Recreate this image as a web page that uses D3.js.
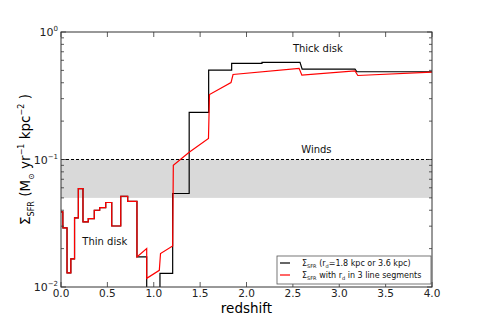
<!DOCTYPE html>
<html>
<head>
<meta charset="utf-8">
<script src="https://cdn.jsdelivr.net/npm/d3@7"></script>
<style>
  body { margin: 0; background: #fff; }
  svg { display: block; font-family: "DejaVu Sans", sans-serif; }
</style>
</head>
<body>
<div id="chart"></div>
<script>
// Data (redshift, Sigma_SFR)
const zBlack = [0, 0.02, 0.02, 0.065, 0.065, 0.106, 0.106, 0.146, 0.146, 0.187, 0.187, 0.237, 0.237, 0.294, 0.294, 0.359, 0.359, 0.417, 0.417, 0.482, 0.482, 0.547, 0.547, 0.644, 0.644, 0.719, 0.719, 0.819, 0.819, 0.924, 0.924, 1.067, 1.067, 1.204, 1.204, 1.382, 1.382, 1.592, 1.592, 1.840, 1.840, 2.167, 2.167, 2.577, 2.60, 3.17, 3.19, 4.0];
const sfrBlack = [0.0388, 0.0388, 0.0291, 0.0291, 0.0129, 0.0129, 0.0166, 0.0166, 0.0348, 0.0348, 0.0592, 0.0592, 0.0324, 0.0324, 0.0344, 0.0344, 0.0400, 0.0400, 0.0420, 0.0420, 0.0460, 0.0460, 0.0301, 0.0301, 0.0515, 0.0515, 0.0470, 0.0470, 0.0172, 0.0172, 0.0095, 0.0095, 0.0128, 0.0128, 0.0541, 0.0541, 0.234, 0.234, 0.503, 0.503, 0.568, 0.568, 0.578, 0.578, 0.512, 0.512, 0.488, 0.488];

const zRed = [0, 0.02, 0.02, 0.065, 0.065, 0.106, 0.106, 0.146, 0.146, 0.187, 0.187, 0.237, 0.237, 0.294, 0.294, 0.359, 0.359, 0.417, 0.417, 0.482, 0.482, 0.547, 0.547, 0.644, 0.644, 0.719, 0.719, 0.819, 0.819, 0.924, 0.924, 1.060, 1.073, 1.204, 1.211, 1.382, 1.590, 1.601, 1.833, 1.855, 2.567, 2.597, 3.17, 3.20, 4.0];
const sfrRed = [0.0388, 0.0388, 0.0291, 0.0291, 0.0129, 0.0129, 0.0166, 0.0166, 0.0348, 0.0348, 0.0592, 0.0592, 0.0324, 0.0324, 0.0344, 0.0344, 0.0400, 0.0400, 0.0420, 0.0420, 0.0460, 0.0460, 0.0301, 0.0301, 0.0515, 0.0515, 0.0470, 0.0470, 0.0172, 0.0200, 0.0117, 0.0135, 0.0183, 0.0210, 0.0902, 0.114, 0.146, 0.323, 0.401, 0.464, 0.519, 0.459, 0.495, 0.456, 0.485];

const xTicks = [0, 0.5, 1.0, 1.5, 2.0, 2.5, 3.0, 3.5, 4.0];
const yMajor = [0.01, 0.1, 1];
const yLabelExp = ["-2", "-1", "0"];
const windBand = [0.05, 0.1];
const notes = [
  {text: "Thick disk", z: 2.50, v: 0.70},
  {text: "Winds", z: 2.59, v: 0.112},
  {text: "Thin disk", z: 0.23, v: 0.0215}
];

const width = 480, height = 320;
const margin = {left: 61, right: 48, top: 32, bottom: 33};

const svg = d3.select("#chart").append("svg")
  .attr("width", width)
  .attr("height", height);

const x = d3.scaleLinear().domain([0, 4]).range([margin.left, width - margin.right]);
const y = d3.scaleLog().domain([0.01, 1]).range([height - margin.bottom, margin.top]);

svg.append("clipPath").attr("id", "clip")
  .append("rect")
  .attr("x", x(0)).attr("y", y(1))
  .attr("width", x(4) - x(0)).attr("height", y(0.01) - y(1));

// Winds band
svg.append("rect")
  .attr("x", x(0)).attr("width", x(4) - x(0))
  .attr("y", y(windBand[1])).attr("height", y(windBand[0]) - y(windBand[1]))
  .attr("fill", "#d9d9d9");

svg.append("line")
  .attr("x1", x(0)).attr("x2", x(4))
  .attr("y1", y(windBand[1])).attr("y2", y(windBand[1]))
  .attr("stroke", "#000").attr("stroke-width", 1).attr("stroke-dasharray", "3,2");

const line = d3.line().x(d => x(d[0])).y(d => y(d[1]));

const plot = svg.append("g").attr("clip-path", "url(#clip)");
plot.append("path")
  .datum(d3.zip(zBlack, sfrBlack))
  .attr("d", line).attr("fill", "none")
  .attr("stroke", "#000").attr("stroke-width", 1.2);
plot.append("path")
  .datum(d3.zip(zRed, sfrRed))
  .attr("d", line).attr("fill", "none")
  .attr("stroke", "#ff0000").attr("stroke-width", 1.2);

// Frame
svg.append("rect")
  .attr("x", x(0)).attr("y", y(1))
  .attr("width", x(4) - x(0)).attr("height", y(0.01) - y(1))
  .attr("fill", "none").attr("stroke", "#333").attr("stroke-width", 1);

// Ticks (inward, on all four sides)
const ticks = svg.append("g").attr("stroke", "#333").attr("stroke-width", 0.8);
xTicks.forEach(t => {
  ticks.append("line").attr("x1", x(t)).attr("x2", x(t)).attr("y1", y(0.01)).attr("y2", y(0.01) - 5);
  ticks.append("line").attr("x1", x(t)).attr("x2", x(t)).attr("y1", y(1)).attr("y2", y(1) + 5);
});
const yMinor = y.ticks().filter(t => !yMajor.some(m => Math.abs(m - t) < 1e-9));
yMajor.forEach(t => {
  ticks.append("line").attr("x1", x(0)).attr("x2", x(0) + 5).attr("y1", y(t)).attr("y2", y(t));
  ticks.append("line").attr("x1", x(4)).attr("x2", x(4) - 5).attr("y1", y(t)).attr("y2", y(t));
});
yMinor.forEach(t => {
  ticks.append("line").attr("x1", x(0)).attr("x2", x(0) + 3).attr("y1", y(t)).attr("y2", y(t));
  ticks.append("line").attr("x1", x(4)).attr("x2", x(4) - 3).attr("y1", y(t)).attr("y2", y(t));
});

// Tick labels
svg.append("g").selectAll("text")
  .data(xTicks).join("text")
  .attr("x", d => x(d)).attr("y", y(0.01) + 10)
  .attr("text-anchor", "middle")
  .attr("font-size", 10.5).attr("fill", "#222")
  .text(d => d.toFixed(1));

const yl = svg.append("g").selectAll("text")
  .data(yMajor).join("text")
  .attr("x", x(0) - 3).attr("y", d => y(d) + 4)
  .attr("text-anchor", "end")
  .attr("font-size", 11).attr("fill", "#222");
yl.append("tspan").text("10");
yl.append("tspan").attr("dy", -5).attr("font-size", 7).text((d, i) => yLabelExp[i].replace("-", "\u2212"));

// Axis labels
svg.append("text")
  .attr("x", (x(0) + x(4)) / 2).attr("y", 313)
  .attr("text-anchor", "middle").attr("font-size", 13.5)
  .text("redshift");

const ylab = svg.append("text")
  .attr("transform", `translate(30,${(y(1) + y(0.01)) / 2}) rotate(-90)`)
  .attr("text-anchor", "middle").attr("font-size", 13.5);
ylab.append("tspan").text("\u03A3");
ylab.append("tspan").attr("dy", 4).attr("font-size", 8).text("SFR");
ylab.append("tspan").attr("dy", -4).text(" (M");
ylab.append("tspan").attr("dy", 4).attr("font-size", 8).text("\u2299");
ylab.append("tspan").attr("dy", -4).text(" yr");
ylab.append("tspan").attr("dy", -6).attr("font-size", 8).text("\u22121");
ylab.append("tspan").attr("dy", 6).text(" kpc");
ylab.append("tspan").attr("dy", -6).attr("font-size", 8).text("\u22122");
ylab.append("tspan").attr("dy", 6).text(" )");

// Annotations
svg.append("g").selectAll("text")
  .data(notes).join("text")
  .attr("x", d => x(d.z)).attr("y", d => y(d.v))
  .attr("font-size", 10).attr("fill", "#111")
  .text(d => d.text);

// Legend
const lg = svg.append("g").attr("transform", "translate(277,256)");
lg.append("rect").attr("width", 154).attr("height", 28)
  .attr("fill", "#fff").attr("stroke", "#555").attr("stroke-width", 0.8);
const legendItems = [
  {color: "#000", parts: [["\u03A3", 8, 0], ["SFR", 5, 2], [" (r", 8, -2], ["d", 5, 2], ["=1.8 kpc or 3.6 kpc)", 8, -2]]},
  {color: "#ff0000", parts: [["\u03A3", 8, 0], ["SFR", 5, 2], [" with r", 8, -2], ["d", 5, 2], [" in 3 line segments", 8, -2]]}
];
legendItems.forEach((it, i) => {
  const cy = 7 + i * 12;
  lg.append("line").attr("x1", 3).attr("x2", 13).attr("y1", cy).attr("y2", cy)
    .attr("stroke", it.color).attr("stroke-width", 1.2);
  const t = lg.append("text").attr("x", 25).attr("y", cy + 3).attr("fill", "#111");
  it.parts.forEach(p => t.append("tspan").attr("font-size", p[1]).attr("dy", p[2]).text(p[0]));
});
</script>
</body>
</html>
